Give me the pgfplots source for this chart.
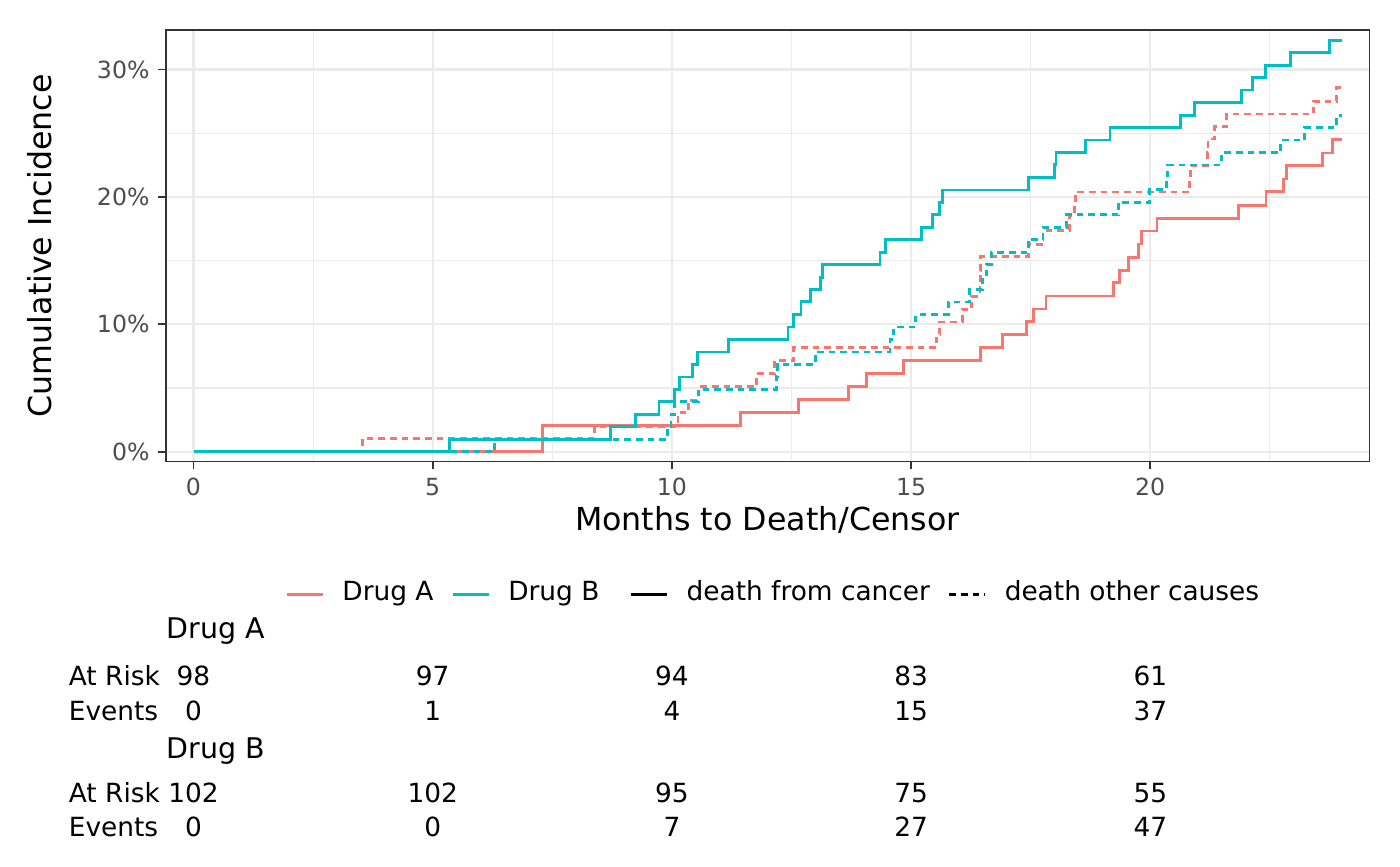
\documentclass[border=0pt]{standalone}
\usepackage{fontspec}
\setmainfont{DejaVu Sans}
\usepackage{pgfplots}
\usepackage{pgfplotstable}
\pgfplotsset{compat=1.18}
\definecolor{cA}{HTML}{F8766D}
\definecolor{cB}{HTML}{00BFC4}
\definecolor{grid92}{HTML}{EBEBEB}
\definecolor{g20}{HTML}{333333}
\definecolor{g30}{HTML}{4D4D4D}
\newcommand\tickf{\fontsize{8.5}{10}\selectfont}
\newcommand\titlef{\fontsize{11.4}{13}\selectfont}
\newcommand\legf{\fontsize{9.5}{11}\selectfont}
\newcommand\tabf{\fontsize{9.5}{11}\selectfont}
\newcommand\strf{\fontsize{10.25}{12}\selectfont}

\pgfplotstableread{
t y
0 0
7.29 2.07
11.44 3.07
12.64 4.10
13.69 5.10
14.07 6.14
14.84 7.15
16.46 8.17
16.92 9.17
17.42 10.20
17.56 11.20
17.82 12.22
19.23 13.27
19.35 14.25
19.55 15.27
19.76 16.30
19.82 17.33
20.14 18.33
21.84 19.33
22.42 20.40
22.78 21.40
22.85 22.45
23.60 23.45
23.81 24.50
24.00 24.50
}\Acancer

\pgfplotstableread{
t y
0 0
3.53 1.05
8.38 2.00
10.13 3.05
10.34 4.05
10.55 5.09
11.77 6.14
12.15 7.13
12.54 8.17
15.54 9.20
15.60 10.18
16.07 11.17
16.27 12.19
16.44 13.20
16.45 14.25
16.46 15.30
17.45 16.28
17.76 17.36
18.31 18.53
18.42 19.45
18.44 20.38
20.82 21.40
20.84 22.45
21.19 23.50
21.21 24.54
21.35 25.50
21.60 26.50
23.41 27.50
23.90 28.60
24.00 28.60
}\Aother

\pgfplotstableread{
t y
0 0
5.35 0.97
8.71 1.97
9.24 2.95
9.73 3.92
10.06 4.90
10.16 5.87
10.43 6.84
10.54 7.83
11.19 8.83
12.43 9.79
12.54 10.78
12.70 11.78
12.90 12.72
13.10 13.70
13.15 14.70
14.35 15.66
14.47 16.66
15.22 17.62
15.45 18.59
15.60 19.58
15.65 20.55
17.46 21.53
18.00 22.53
18.03 23.49
18.64 24.46
19.16 25.45
20.64 26.42
20.93 27.41
21.91 28.40
22.14 29.37
22.41 30.34
22.93 31.32
23.74 32.29
24.00 32.29
}\Bcancer

\pgfplotstableread{
t y
0 0
6.30 0.97
9.91 1.96
9.98 2.95
10.06 3.92
10.55 4.91
12.19 5.90
12.21 6.87
13.00 7.83
14.56 8.83
14.64 9.79
15.10 10.78
15.78 11.75
16.23 12.72
16.50 13.70
16.58 14.70
16.68 15.66
17.45 16.65
17.76 17.62
18.25 18.60
19.33 19.58
19.99 20.57
20.34 21.53
20.36 22.50
21.49 23.49
22.73 24.46
23.23 25.45
23.90 26.42
24.00 26.42
}\Bother

\begin{document}
\begin{tikzpicture}
\path[use as bounding box] (0pt,0pt) rectangle (504pt,-311.76pt);
\begin{axis}[
  at={(59.76pt,-166.21pt)}, anchor=south west,
  width=433.19pt, height=155.41pt, scale only axis,
  xmin=-0.575, xmax=24.58, ymin=-0.785, ymax=33.1,
  xtick={0,5,10,15,20}, xticklabels={0,5,10,15,20},
  ytick={0,10,20,30}, yticklabels={0\%,10\%,20\%,30\%},
  minor xtick={2.5,7.5,12.5,17.5,22.5}, minor ytick={5,15,25},
  grid=both,
  major grid style={draw=grid92, line width=0.8pt},
  minor grid style={draw=grid92, line width=0.4pt},
  axis line style={draw=g20, line width=0.5pt},
  tick pos=left, tick align=outside,
  major tick length=2.75pt, minor tick length=0pt,
  major tick style={draw=g20, line width=0.6pt},
  /pgf/number format/assume math mode=true,
  ticklabel style={font=\tickf, text=g30},
  xticklabel style={inner sep=0pt, anchor=north, yshift=-2.9pt},
  yticklabel style={inner sep=0pt, anchor=east, xshift=-3pt},
  legend columns=-1,
  legend image code/.code={\draw[#1] (0pt,2pt) -- (13pt,2pt);},
  legend style={draw=none, fill=none, at={(0.5039,-0.302)}, anchor=center,
    font=\legf, inner sep=0pt, outer sep=0pt,
    nodes={inner sep=0pt, anchor=base west},
    /tikz/every odd column/.append style={column sep=6.5pt},
    /tikz/every even column/.append style={column sep=6.4pt}},
  clip=false,
]
\addplot[cA, line width=1pt, const plot, forget plot] table[x=t,y=y] {\Acancer};
\addplot[cA, line width=1pt, const plot, dash pattern=on 2.4pt off 1.8pt, forget plot] table[x=t,y=y] {\Aother};
\addplot[cB, line width=1pt, const plot, forget plot] table[x=t,y=y] {\Bcancer};
\addplot[cB, line width=1pt, const plot, dash pattern=on 2.4pt off 1.8pt, forget plot] table[x=t,y=y] {\Bother};
\addlegendimage{cA, line width=1pt}
\addlegendentry{Drug A}
\addlegendimage{cB, line width=1pt}
\addlegendentry{Drug B\hspace*{4.5pt}\mbox{}}
\addlegendimage{black, line width=1pt}
\addlegendentry{death from cancer}
\addlegendimage{black, line width=1pt, dash pattern=on 2.4pt off 1.8pt}
\addlegendentry{death other causes}
\end{axis}
\begin{scope}[x=0.36pt,y=-0.36pt]
\node[rotate=90, anchor=base, inner sep=0pt] at (51.7,245.8) {\titlef Cumulative Incidence};
\node[anchor=base, inner sep=0pt] at (767.5,530) {\titlef Months to Death/Censor};
\node[anchor=base west, inner sep=0pt] at (166,638.3) {\strf Drug A};
\node[anchor=base west, inner sep=0pt] at (68.3,685) {\tabf At Risk};
\node[anchor=base west, inner sep=0pt] at (68.3,720) {\tabf Events};
\node[anchor=base west, inner sep=0pt] at (166,758.3) {\strf Drug B};
\node[anchor=base west, inner sep=0pt] at (68.3,802.7) {\tabf At Risk};
\node[anchor=base west, inner sep=0pt] at (68.3,836.7) {\tabf Events};
\foreach \xx/\a/\b/\c/\d in {193.5/98/0/102/0, 432.7/97/1/102/0, 671.9/94/4/95/7, 911.1/83/15/75/27, 1150.3/61/37/55/47} {
  \node[anchor=base, inner sep=0pt] at (\xx,685) {\tabf \a};
  \node[anchor=base, inner sep=0pt] at (\xx,720) {\tabf \b};
  \node[anchor=base, inner sep=0pt] at (\xx,802.7) {\tabf \c};
  \node[anchor=base, inner sep=0pt] at (\xx,836.7) {\tabf \d};
}
\end{scope}
\end{tikzpicture}
\end{document}
